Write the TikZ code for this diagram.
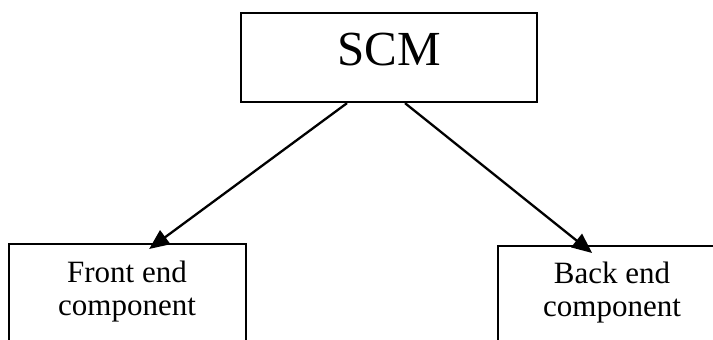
\documentclass[tikz,border=0pt]{standalone}
\usepackage{fontspec}
\setmainfont{Liberation Serif}
\usetikzlibrary{arrows.meta,calc}
\tikzset{
  boxnode/.style={draw=black, line width=2.3pt, rectangle, inner sep=0pt},
  txt/.style={inner sep=0pt, align=center},
  conn/.style={line width=2.3pt, -{Triangle[length=20pt,width=17pt]}}
}
\begin{document}
\begin{tikzpicture}[x=1pt,y=-1pt]
\clip (0,0) rectangle (713,340);
\fill[white] (0,0) rectangle (713,340);
% boxes
\node[boxnode, minimum width=296pt, minimum height=89pt] (scm) at (389,57.5) {};
\node[boxnode, minimum width=237pt, minimum height=120pt, anchor=north west] (front) at (8,243) {};
\node[boxnode, minimum width=230pt, minimum height=120pt, anchor=north west] (back) at (497,245) {};
% texts
\node[txt, anchor=base, font=\fontsize{49}{53}\selectfont] (scmtext) at (389,65) {SCM};
\node[txt, anchor=center, font=\fontsize{31}{33}\selectfont] (fronttext) at (127,292) {Front end\\component};
\node[txt, anchor=center, font=\fontsize{31}{33}\selectfont] (backtext) at (612,293) {Back end\\component};
% connectors
\coordinate (s1) at ($(scm.south)+(-42pt,0)$);
\coordinate (s2) at ($(scm.south)+(16pt,0)$);
\coordinate (t1) at ($(front.north)+(21.5pt,-6pt)$);
\coordinate (t2) at ($(back.north)+(-21pt,-8pt)$);
\draw[conn] (s1) -- (t1);
\draw[conn] (s2) -- (t2);
\end{tikzpicture}
\end{document}
